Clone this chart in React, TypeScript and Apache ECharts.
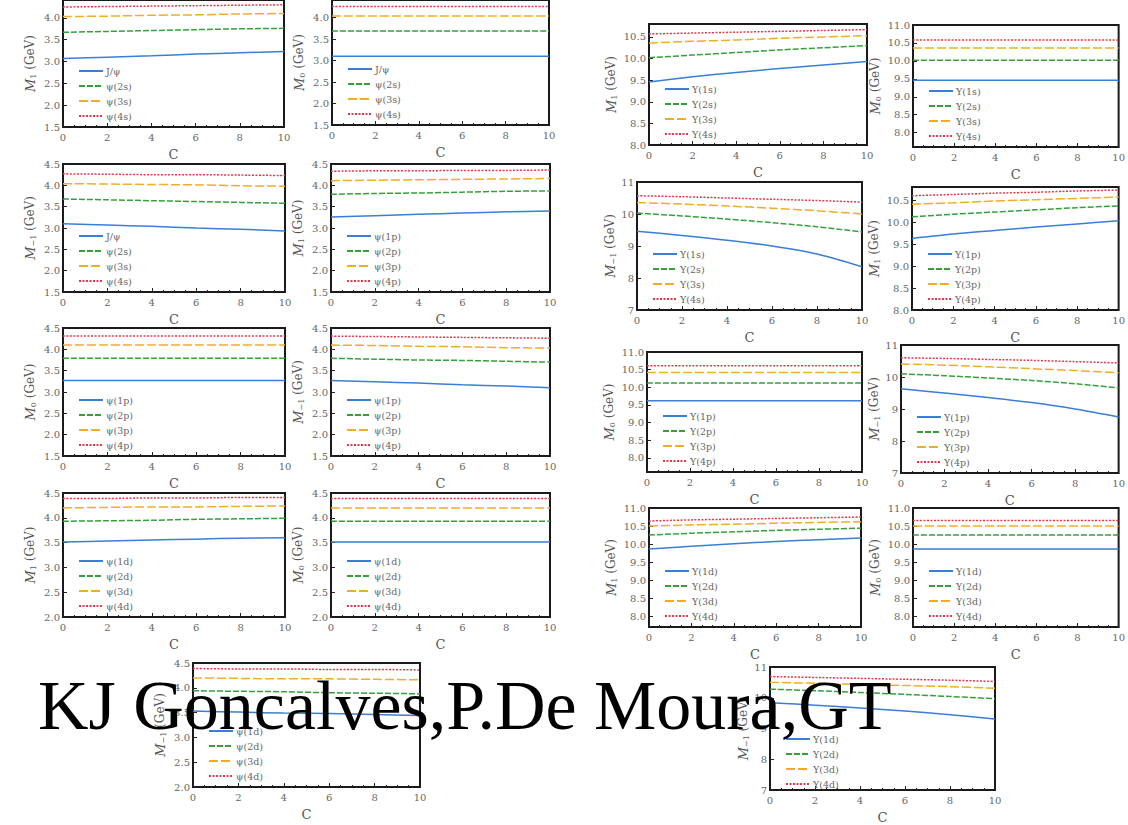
import React, { useEffect, useRef } from 'react';
import * as echarts from 'echarts';

// ---------- data ----------
const C = [0, 2, 4, 6, 8, 10];

const psiSNames = ['J/ψ', 'ψ(2s)', 'ψ(3s)', 'ψ(4s)'];
const psiPNames = ['ψ(1p)', 'ψ(2p)', 'ψ(3p)', 'ψ(4p)'];
const psiDNames = ['ψ(1d)', 'ψ(2d)', 'ψ(3d)', 'ψ(4d)'];
const upsSNames = ['Υ(1s)', 'Υ(2s)', 'Υ(3s)', 'Υ(4s)'];
const upsPNames = ['Υ(1p)', 'Υ(2p)', 'Υ(3p)', 'Υ(4p)'];
const upsDNames = ['Υ(1d)', 'Υ(2d)', 'Υ(3d)', 'Υ(4d)'];

// charmonium
const psiM1s = [
  [3.07, 3.10, 3.13, 3.17, 3.20, 3.23],
  [3.67, 3.69, 3.71, 3.73, 3.75, 3.76],
  [4.03, 4.04, 4.06, 4.07, 4.09, 4.10],
  [4.25, 4.26, 4.27, 4.28, 4.29, 4.30],
];
const psiM0s = [
  [3.10, 3.10, 3.10, 3.10, 3.10, 3.10],
  [3.69, 3.69, 3.69, 3.69, 3.69, 3.69],
  [4.04, 4.04, 4.04, 4.04, 4.04, 4.04],
  [4.26, 4.26, 4.26, 4.26, 4.26, 4.26],
];
const psiMm1s = [
  [3.10, 3.07, 3.04, 3.00, 2.97, 2.93],
  [3.68, 3.66, 3.64, 3.62, 3.60, 3.58],
  [4.04, 4.03, 4.02, 4.01, 3.99, 3.98],
  [4.27, 4.26, 4.25, 4.25, 4.24, 4.23],
];
const psiM1p = [
  [3.26, 3.29, 3.32, 3.35, 3.38, 3.40],
  [3.79, 3.81, 3.82, 3.84, 3.86, 3.87],
  [4.11, 4.12, 4.13, 4.14, 4.15, 4.16],
  [4.33, 4.34, 4.34, 4.35, 4.35, 4.36],
];
const psiM0p = [
  [3.27, 3.27, 3.27, 3.27, 3.27, 3.27],
  [3.79, 3.79, 3.79, 3.79, 3.79, 3.79],
  [4.10, 4.10, 4.10, 4.10, 4.10, 4.10],
  [4.31, 4.31, 4.31, 4.31, 4.31, 4.31],
];
const psiMm1p = [
  [3.27, 3.24, 3.21, 3.17, 3.14, 3.10],
  [3.79, 3.77, 3.75, 3.74, 3.72, 3.70],
  [4.10, 4.09, 4.07, 4.06, 4.04, 4.03],
  [4.31, 4.30, 4.29, 4.28, 4.27, 4.26],
];
const psiM1d = [
  [3.51, 3.53, 3.55, 3.57, 3.59, 3.60],
  [3.93, 3.94, 3.95, 3.97, 3.98, 3.99],
  [4.20, 4.21, 4.22, 4.22, 4.23, 4.24],
  [4.39, 4.39, 4.40, 4.40, 4.41, 4.41],
];
const psiM0d = [
  [3.51, 3.51, 3.51, 3.51, 3.51, 3.51],
  [3.93, 3.93, 3.93, 3.93, 3.93, 3.93],
  [4.20, 4.20, 4.20, 4.20, 4.20, 4.20],
  [4.39, 4.39, 4.39, 4.39, 4.39, 4.39],
];
const psiMm1d = [
  [3.53, 3.51, 3.49, 3.48, 3.46, 3.44],
  [3.94, 3.93, 3.92, 3.90, 3.89, 3.88],
  [4.20, 4.19, 4.18, 4.18, 4.17, 4.16],
  [4.39, 4.38, 4.38, 4.37, 4.37, 4.36],
];

// bottomonium
const upsM1s = [
  [9.46, 9.58, 9.68, 9.77, 9.85, 9.93],
  [10.02, 10.08, 10.14, 10.20, 10.25, 10.30],
  [10.36, 10.40, 10.43, 10.47, 10.50, 10.53],
  [10.57, 10.59, 10.61, 10.63, 10.65, 10.67],
];
const upsM0s = [
  [9.46, 9.46, 9.46, 9.46, 9.46, 9.46],
  [10.02, 10.02, 10.02, 10.02, 10.02, 10.02],
  [10.36, 10.36, 10.36, 10.36, 10.36, 10.36],
  [10.58, 10.58, 10.58, 10.58, 10.58, 10.58],
];
const upsMm1s = [
  [9.46, 9.33, 9.18, 9.00, 8.75, 8.35],
  [10.03, 9.94, 9.84, 9.73, 9.60, 9.44],
  [10.36, 10.31, 10.25, 10.18, 10.10, 10.00],
  [10.57, 10.54, 10.50, 10.46, 10.42, 10.37],
];
const upsM1p = [
  [9.63, 9.73, 9.81, 9.89, 9.96, 10.03],
  [10.12, 10.18, 10.23, 10.28, 10.33, 10.37],
  [10.41, 10.44, 10.48, 10.51, 10.54, 10.57],
  [10.60, 10.63, 10.66, 10.68, 10.71, 10.73],
];
const upsM0p = [
  [9.62, 9.62, 9.62, 9.62, 9.62, 9.62],
  [10.12, 10.12, 10.12, 10.12, 10.12, 10.12],
  [10.42, 10.42, 10.42, 10.42, 10.42, 10.42],
  [10.61, 10.61, 10.61, 10.61, 10.61, 10.61],
];
const upsMm1p = [
  [9.63, 9.50, 9.36, 9.20, 9.00, 8.75],
  [10.10, 10.04, 9.97, 9.89, 9.79, 9.66],
  [10.41, 10.37, 10.32, 10.26, 10.20, 10.13],
  [10.60, 10.58, 10.55, 10.52, 10.48, 10.44],
];
const upsM1d = [
  [9.86, 9.94, 10.01, 10.07, 10.12, 10.17],
  [10.25, 10.30, 10.34, 10.38, 10.41, 10.44],
  [10.50, 10.53, 10.55, 10.58, 10.60, 10.62],
  [10.64, 10.67, 10.69, 10.71, 10.73, 10.75],
];
const upsM0d = [
  [9.86, 9.86, 9.86, 9.86, 9.86, 9.86],
  [10.25, 10.25, 10.25, 10.25, 10.25, 10.25],
  [10.50, 10.50, 10.50, 10.50, 10.50, 10.50],
  [10.65, 10.65, 10.65, 10.65, 10.65, 10.65],
];
const upsMm1d = [
  [9.84, 9.76, 9.67, 9.57, 9.45, 9.31],
  [10.28, 10.23, 10.17, 10.11, 10.04, 9.97],
  [10.50, 10.47, 10.43, 10.40, 10.36, 10.31],
  [10.69, 10.66, 10.63, 10.60, 10.57, 10.53],
];

const xTicks = [0, 2, 4, 6, 8, 10];
const ticksPsiTop = [1.5, 2.0, 2.5, 3.0, 3.5, 4.0];
const ticksPsiWide = [1.5, 2.0, 2.5, 3.0, 3.5, 4.0, 4.5];
const ticksPsiD = [2.0, 2.5, 3.0, 3.5, 4.0, 4.5];
const ticksUpsHalf = [8.0, 8.5, 9.0, 9.5, 10.0, 10.5];
const ticksUpsHalf11 = [8.0, 8.5, 9.0, 9.5, 10.0, 10.5, 11.0];
const ticksUpsInt = [7, 8, 9, 10, 11];

const overlayText = 'KJ Goncalves,P.De Moura,GT';

// ---------- layout / style ----------
const H = 825;
const COLORS = ['#3a7ed6', '#36a03a', '#f5ac25', '#e5384d'];
const DASHES: any[] = ['solid', [6, 2], [9, 3], [2, 1.5]];
const SERIF = '"DejaVu Serif", "Liberation Serif", serif';

type Panel = {
  data: number[][]; names: string[]; sub: string;
  yMin: number; yMax: number; ticks: number[]; dec: number;
  x1: number; x2: number; y1: number; y2: number;
};

const panels: Panel[] = [
  { data: psiM1s, names: psiSNames, sub: '1', yMin: 1.5, yMax: 4.41, ticks: ticksPsiTop, dec: 1, x1: 63, x2: 284, y1: 0, y2: 127 },
  { data: psiM0s, names: psiSNames, sub: '0', yMin: 1.5, yMax: 4.41, ticks: ticksPsiTop, dec: 1, x1: 332, x2: 549, y1: 0, y2: 125 },
  { data: psiMm1s, names: psiSNames, sub: '-1', yMin: 1.5, yMax: 4.5, ticks: ticksPsiWide, dec: 1, x1: 63, x2: 285, y1: 164, y2: 292 },
  { data: psiM1p, names: psiPNames, sub: '1', yMin: 1.5, yMax: 4.5, ticks: ticksPsiWide, dec: 1, x1: 331, x2: 550, y1: 164, y2: 292 },
  { data: psiM0p, names: psiPNames, sub: '0', yMin: 1.5, yMax: 4.5, ticks: ticksPsiWide, dec: 1, x1: 63, x2: 285, y1: 328, y2: 456 },
  { data: psiMm1p, names: psiPNames, sub: '-1', yMin: 1.5, yMax: 4.5, ticks: ticksPsiWide, dec: 1, x1: 331, x2: 550, y1: 328, y2: 456 },
  { data: psiM1d, names: psiDNames, sub: '1', yMin: 2.0, yMax: 4.5, ticks: ticksPsiD, dec: 1, x1: 63, x2: 285, y1: 493, y2: 617 },
  { data: psiM0d, names: psiDNames, sub: '0', yMin: 2.0, yMax: 4.5, ticks: ticksPsiD, dec: 1, x1: 331, x2: 550, y1: 493, y2: 617 },
  { data: psiMm1d, names: psiDNames, sub: '-1', yMin: 2.0, yMax: 4.5, ticks: ticksPsiD, dec: 1, x1: 193, x2: 420, y1: 663, y2: 787 },

  { data: upsM1s, names: upsSNames, sub: '1', yMin: 8.0, yMax: 10.8, ticks: ticksUpsHalf, dec: 1, x1: 649, x2: 867, y1: 24, y2: 145 },
  { data: upsM0s, names: upsSNames, sub: '0', yMin: 7.6, yMax: 11.0, ticks: ticksUpsHalf11, dec: 1, x1: 913, x2: 1126, y1: 25, y2: 147 },
  { data: upsMm1s, names: upsSNames, sub: '-1', yMin: 7, yMax: 11, ticks: ticksUpsInt, dec: 0, x1: 637, x2: 862, y1: 182, y2: 310 },
  { data: upsM1p, names: upsPNames, sub: '1', yMin: 8.0, yMax: 10.8, ticks: ticksUpsHalf, dec: 1, x1: 912, x2: 1126, y1: 187, y2: 310 },
  { data: upsM0p, names: upsPNames, sub: '0', yMin: 7.6, yMax: 11.0, ticks: ticksUpsHalf11, dec: 1, x1: 647, x2: 862, y1: 352, y2: 472 },
  { data: upsMm1p, names: upsPNames, sub: '-1', yMin: 7, yMax: 11, ticks: ticksUpsInt, dec: 0, x1: 901, x2: 1126, y1: 345, y2: 473 },
  { data: upsM1d, names: upsDNames, sub: '1', yMin: 7.7, yMax: 11.0, ticks: ticksUpsHalf11, dec: 1, x1: 649, x2: 861, y1: 508, y2: 627 },
  { data: upsM0d, names: upsDNames, sub: '0', yMin: 7.7, yMax: 11.0, ticks: ticksUpsHalf11, dec: 1, x1: 913, x2: 1126, y1: 508, y2: 627 },
  { data: upsMm1d, names: upsDNames, sub: '-1', yMin: 7, yMax: 11, ticks: ticksUpsInt, dec: 0, x1: 770, x2: 995, y1: 667, y2: 795 },
];

function buildOption() {
  const grid: any[] = [];
  const xAxis: any[] = [];
  const yAxis: any[] = [];
  const series: any[] = [];
  const legend: any[] = [];

  panels.forEach((p, i) => {
    grid.push({
      left: p.x1, top: p.y1, width: p.x2 - p.x1, height: p.y2 - p.y1,
      show: true, borderColor: '#1a1a1a', borderWidth: 2, backgroundColor: '#fff',
    });
    xAxis.push({
      type: 'value', gridIndex: i, min: 0, max: 10, interval: 2,
      name: 'C', nameLocation: 'middle', nameGap: 21,
      nameTextStyle: { fontFamily: SERIF, fontSize: 13, color: '#555' },
      axisLine: { show: false },
      axisTick: { inside: true, length: 4, lineStyle: { color: '#222' } },
      minorTick: { show: true, splitNumber: 4, length: 2, lineStyle: { color: '#222' } },
      splitLine: { show: false },
      axisLabel: { fontFamily: SERIF, fontSize: 10, color: '#666', margin: 5, customValues: xTicks },
    });
    yAxis.push({
      type: 'value', gridIndex: i, min: p.yMin, max: p.yMax,
      name: `{m|M}{s|${p.sub === '-1' ? '−1' : p.sub}} (GeV)`,
      nameLocation: 'middle', nameRotate: 90,
      nameGap: p.dec === 0 ? 20 : (p.ticks[p.ticks.length - 1] >= 10 ? 31 : 26),
      nameTextStyle: {
        fontFamily: SERIF, fontSize: 12, color: '#555',
        rich: {
          m: { fontFamily: SERIF, fontSize: 13, fontStyle: 'italic', color: '#555' },
          s: { fontFamily: SERIF, fontSize: 8, color: '#555', verticalAlign: 'bottom', padding: [6, 0, 0, 0] },
        },
      },
      axisLine: { show: false },
      axisTick: { inside: true, length: 4, lineStyle: { color: '#222' }, customValues: p.ticks },
      splitLine: { show: false },
      axisLabel: {
        fontFamily: SERIF, fontSize: 10, color: '#666', margin: 3,
        customValues: p.ticks,
        formatter: (v: number) => v.toFixed(p.dec),
      },
    });
    p.data.forEach((arr, k) => {
      series.push({
        type: 'line', name: p.names[k], xAxisIndex: i, yAxisIndex: i,
        data: C.map((c, j) => [c, arr[j]]),
        smooth: 0.3, symbol: 'none', showSymbol: false, silent: true,
        lineStyle: { color: COLORS[k], width: 1.5, type: DASHES[k] },
        itemStyle: { color: COLORS[k] },
        z: 3,
      });
    });
    legend.push({
      data: p.names, orient: 'vertical', left: p.x1 + 10, top: p.y2 - 66,
      itemWidth: 24, itemHeight: 10, itemGap: 5, selectedMode: false,
      itemStyle: { opacity: 0 },
      textStyle: { fontFamily: SERIF, fontSize: 9.5, color: '#666', padding: [0, 0, 0, -2] },
    });
  });

  return {
    animation: false,
    backgroundColor: '#fff',
    grid, xAxis, yAxis, series, legend,
    graphic: [
      {
        type: 'text', left: 38, top: 670, z: 100,
        style: {
          text: overlayText,
          font: '70px "Liberation Serif", "Times New Roman", serif',
          fill: '#000',
        },
      },
    ],
  };
}

export default function App() {
  const ref = useRef<HTMLDivElement>(null);
  useEffect(() => {
    document.body.style.margin = '0';
    const chart = echarts.init(ref.current!, undefined, { renderer: 'svg' });
    chart.setOption(buildOption() as any);
    return () => chart.dispose();
  }, []);
  return <div ref={ref} style={{ width: 1128, height: H }} />;
}
